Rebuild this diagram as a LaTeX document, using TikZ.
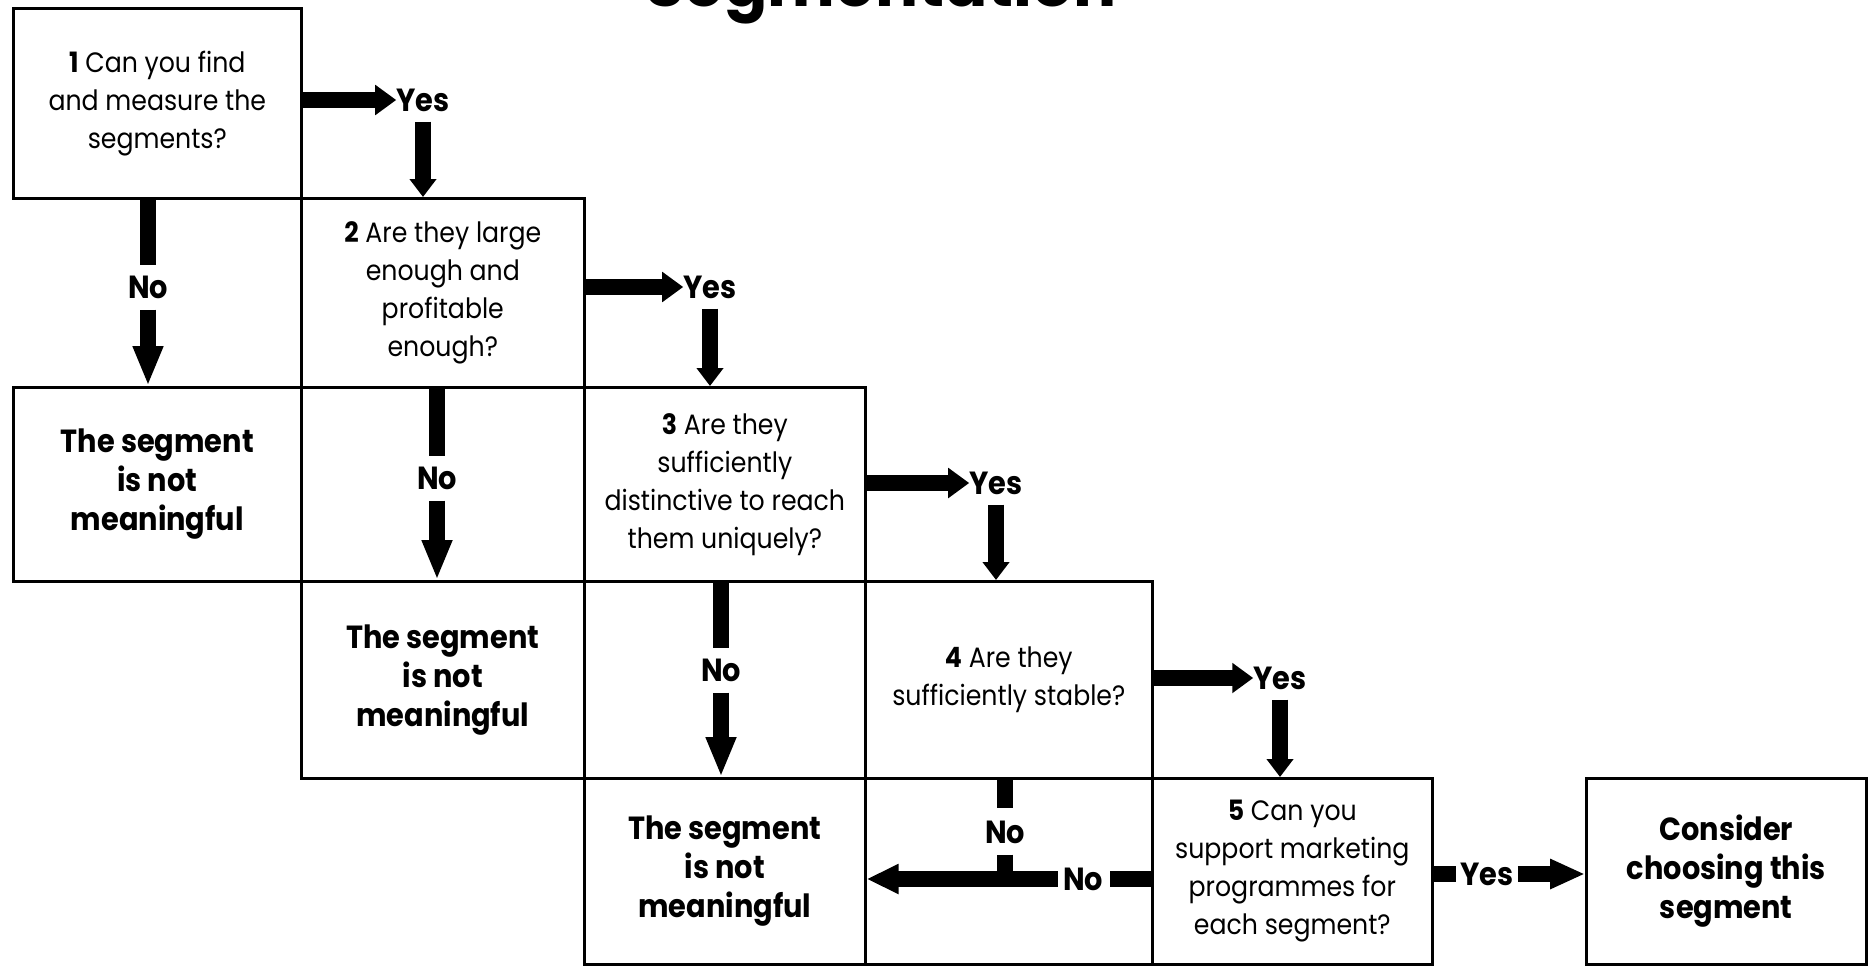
\documentclass[tikz,border=0pt]{standalone}
\usepackage{fontspec}
\setmainfont{Poppins}[FakeStretch=0.9]
\newfontfamily\headfont{Poppins}
\usetikzlibrary{arrows.meta}

\tikzset{
  cell/.style={draw, line width=2.6pt, anchor=north west, inner sep=0pt, align=center},
  ask/.style={cell, font=\fontsize{28}{38}\selectfont},
  verdict/.style={cell, font=\fontsize{32}{39}\selectfont\bfseries},
  tag/.style={inner sep=0pt, font=\fontsize{32}{32}\selectfont\bfseries},
  shaft/.style={line width=16pt},
  yeshead/.style={shaft, -{Triangle[length=21pt,width=29pt]}},
  nohead/.style={shaft, -{Triangle[length=40pt,width=28pt]}},
  downhead/.style={shaft, -{Triangle[length=18pt,width=26pt]}},
}

\begin{document}
\begin{tikzpicture}[x=1pt,y=-1pt]
  \useasboundingbox (0,0) rectangle (1870,966);
  \fill[white] (0,0) rectangle (1870,966);
  \clip (0,0) rectangle (1870,966);

  % heading, cut by the top edge
  \node[anchor=base, inner sep=0pt, font=\headfont\bfseries\fontsize{64}{64}\selectfont] (title) at (881,7) {Segmentation};

  % staircase of cells
  \node[cell, minimum width=287pt, minimum height=186pt] (pass4) at (864,777) {};
  \node[ask, minimum width=288pt, minimum height=190pt] (q1) at (12,7)
    {\textbf{1} Can you find\\and measure the\\segments?};
  \node[ask, minimum width=283pt, minimum height=189pt] (q2) at (300,197)
    {\textbf{2} Are they large\\enough and\\profitable\\enough?};
  \node[verdict, minimum width=288pt, minimum height=194pt] (nm1) at (12,386)
    {The segment\\is not\\meaningful};
  \node[ask, minimum width=281pt, minimum height=194pt] (q3) at (583,386)
    {\textbf{3} Are they\\sufficiently\\distinctive to reach\\them uniquely?};
  \node[verdict, minimum width=283pt, minimum height=197pt] (nm2) at (300,580)
    {The segment\\is not\\meaningful};
  \node[ask, minimum width=287pt, minimum height=197pt] (q4) at (864,580)
    {\textbf{4} Are they\\sufficiently stable?};
  \node[verdict, minimum width=281pt, minimum height=186pt] (nm3) at (583,777)
    {The segment\\is not\\meaningful};
  \node[ask, minimum width=280pt, minimum height=186pt] (q5) at (1151,777)
    {\textbf{5} Can you\\support marketing\\programmes for\\each segment?};
  \node[verdict, minimum width=280pt, minimum height=186pt] (cs) at (1585,777)
    {Consider\\choosing this\\segment};

  % answer labels
  \node[tag] (y1) at (423,100) {Yes};
  \node[tag] (n1) at (148,287) {No};
  \node[tag] (y2) at (710,287) {Yes};
  \node[tag] (n2) at (437,478) {No};
  \node[tag] (y3) at (996,483) {Yes};
  \node[tag] (n3) at (721,670) {No};
  \node[tag] (y4) at (1280,678) {Yes};
  \node[tag] (n4) at (1005,832) {No};
  \node[tag] (n5) at (1083,879) {No};
  \node[tag] (y5) at (1487,874) {Yes};

  % yes branches
  \draw[yeshead] (q1.east |- y1) -- (y1.west);
  \draw[downhead, shorten <=10pt] (y1.south) -- (y1 |- q2.north);
  \draw[yeshead] (q2.east |- y2) -- (y2.west);
  \draw[downhead, shorten <=10pt] (y2.south) -- (y2 |- q3.north);
  \draw[yeshead] (q3.east |- y3) -- (y3.west);
  \draw[downhead, shorten <=10pt] (y3.south) -- (y3 |- q4.north);
  \draw[yeshead] (q4.east |- y4) -- (y4.west);
  \draw[downhead, shorten <=10pt] (y4.south) -- (y4 |- q5.north);
  \draw[shaft, shorten >=4pt] (q5.east |- y5) -- (y5.west);
  \draw[shaft, -{Triangle[length=35pt,width=28pt]}, shorten <=4pt] (y5.east) -- (cs.west |- y5);

  % no branches
  \draw[shaft, shorten >=10pt] (q1.south -| n1) -- (n1.north);
  \draw[nohead, shorten <=11pt] (n1.south) -- (n1 |- nm1.north);
  \draw[shaft, shorten >=10pt] (q2.south -| n2) -- (n2.north);
  \draw[nohead, shorten <=11pt] (n2.south) -- (n2 |- nm2.north);
  \draw[shaft, shorten >=10pt] (q3.south -| n3) -- (n3.north);
  \draw[nohead, shorten <=11pt] (n3.south) -- (n3 |- nm3.north);
  \draw[shaft, shorten >=12pt] (q4.south -| n4) -- (n4.north);
  \draw[shaft, shorten <=11pt] (n4.south) -- (n4 |- n5);
  \draw[shaft, shorten >=7pt] (q5.west |- n5) -- (n5.east);
  \draw[shaft, -{Triangle[length=32pt,width=28pt]}, shorten <=5pt] (n5.west) -- (nm3.east |- n5);
\end{tikzpicture}
\end{document}
